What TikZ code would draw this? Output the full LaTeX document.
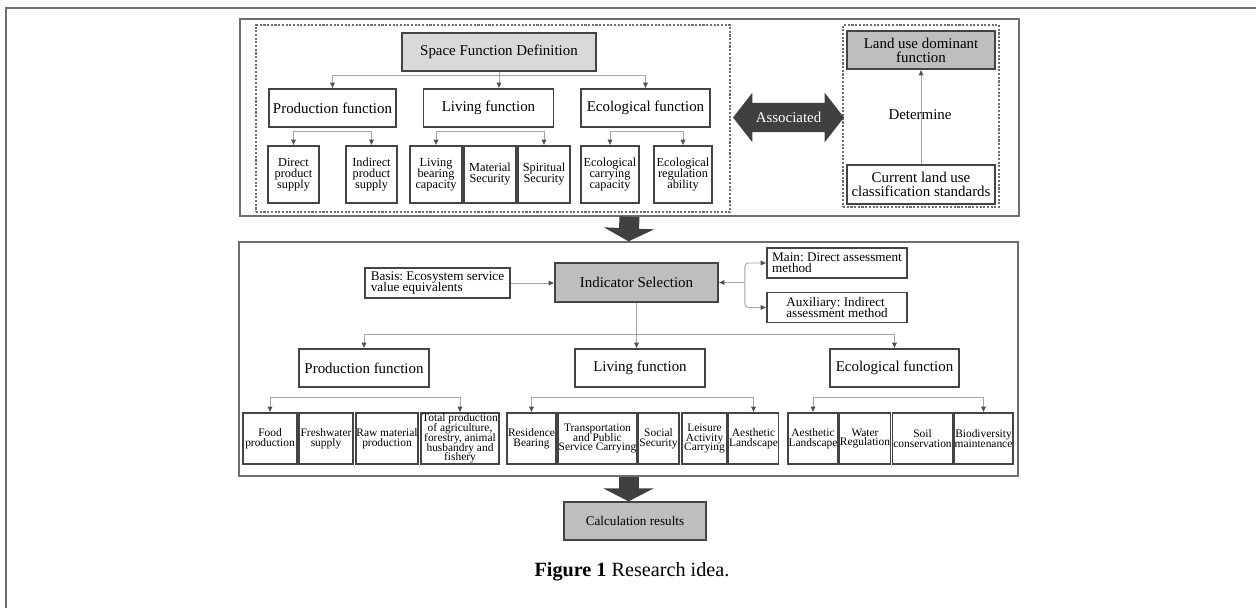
\documentclass[tikz,border=0pt]{standalone}
\usepackage{fontspec}
\setmainfont{Liberation Serif}
\usepackage{xcolor}
\definecolor{boxline}{RGB}{68,68,68}
\definecolor{frameline}{RGB}{110,110,110}
\definecolor{linkgray}{RGB}{165,165,165}
\definecolor{tipgray}{RGB}{80,80,80}
\definecolor{lightfill}{RGB}{217,217,217}
\definecolor{midfill}{RGB}{190,190,190}
\definecolor{arrowdark}{RGB}{64,64,64}
\usepackage{tikz}
\usetikzlibrary{arrows.meta, shapes.arrows, calc}
\newcommand{\tightskip}{\setlength{\lineskiplimit}{-5pt}\frenchspacing}

\tikzset{
  frame/.style={draw=frameline, line width=0.8pt},
  dotframe/.style={draw=frameline, line width=0.8pt, dash pattern=on 1.2pt off 0.9pt},
  fnbox/.style={draw=boxline, line width=0.75pt, inner sep=1pt, align=center, font=\fontsize{8.5}{8}\selectfont\tightskip},
  subbox/.style={draw=boxline, line width=0.75pt, inner sep=0.5pt, align=center, minimum height=1.14cm, font=\fontsize{7}{6.2}\selectfont\tightskip},
  leafbox/.style={draw=boxline, line width=0.75pt, inner sep=0.3pt, align=center, minimum height=1.02cm, font=\fontsize{6.5}{5.6}\selectfont\tightskip},
  notebox/.style={draw=boxline, line width=0.75pt, inner sep=1pt, align=left, minimum height=0.6cm, font=\fontsize{7.5}{6.4}\selectfont\tightskip},
  link/.style={draw=linkgray, line width=0.5pt, >={Latex[length=3.2pt,width=3pt,color=tipgray]}},
  bigarrow/.style={draw=arrowdark, line width=0.4cm, -{Triangle[width=1cm,length=0.26cm]}},
  assoc/.style={double arrow, fill=arrowdark, text=white, font=\fontsize{8.5}{8}\selectfont,
    inner xsep=2pt, inner ysep=5.2pt, minimum height=2.22cm,
    double arrow head extend=5.7pt, double arrow tip angle=104},
  pageline/.style={draw=frameline, line width=1.1pt}
}

\begin{document}
\begin{tikzpicture}[x=0.02cm, y=-0.02cm]
  \useasboundingbox (0,0) rectangle (1256,608);
  \draw[pageline] (1256,8) -- (6,8) -- (6,608);

  % Upper part: definition and land use
  \node[frame, minimum width=15.58cm, minimum height=3.94cm] (upper) at (629.5,117.5) {};
  \node[dotframe, minimum width=9.48cm, minimum height=3.74cm] (defzone) at (493,118.5) {};
  \node[dotframe, minimum width=3.12cm, minimum height=3.64cm] (landzone) at (921,116) {};

  \node[fnbox, fill=lightfill, minimum width=3.88cm, minimum height=0.76cm] (sfd) at (499,52) {Space Function Definition};
  \node[fnbox, minimum width=2.54cm, minimum height=0.76cm] (pf) at (332.5,108) {Production function};
  \node[fnbox, minimum width=2.6cm, minimum height=0.76cm] (liv) at (488.5,108) {Living function};
  \node[fnbox, minimum width=2.58cm, minimum height=0.76cm] (ef) at (645.5,108) {Ecological function};
  \draw[link,->] (sfd.south) -- (sfd.south |- liv.north);
  \draw[link,<->] (pf.north) -- ++(0,-13) -| (ef.north);

  % Sub functions
  \node[subbox, minimum width=1.02cm] (dps) at (293.5,174.5) {Direct\\product\\supply};
  \node[subbox, minimum width=1.02cm] (ips) at (371.5,174.5) {Indirect\\product\\supply};
  \node[subbox, minimum width=1.04cm] (lbc) at (436,174.5) {Living\\bearing\\capacity};
  \node[subbox, minimum width=1.04cm] (ms) at (490,174.5) {Material\\Security};
  \node[subbox, minimum width=1.04cm] (ss) at (544,174.5) {Spiritual\\Security};
  \node[subbox, minimum width=1.16cm] (ecc) at (610,174.5) {Ecological\\carrying\\capacity};
  \node[subbox, minimum width=1.16cm] (era) at (683,174.5) {Ecological\\regulation\\ability};
  \draw[link,<->] (dps.north) -- ++(0,-14) -| (ips.north);
  \draw[link,<->] (lbc.north) -- ++(0,-14) -| (ss.north);
  \draw[link,<->] (ecc.north) -- ++(0,-14) -| (era.north);

  % Land use side
  \node[fnbox, fill=midfill, minimum width=2.96cm, minimum height=0.76cm] (ldf) at (921,50) {Land use dominant\\function};
  \node[fnbox, minimum width=2.96cm, minimum height=0.78cm] (cur) at (921,184.5) {Current land use\\classification standards};
  \draw[link,->] (cur.north) -- (ldf.south);
  \node[font=\fontsize{8.5}{8}\selectfont] (det) at (920,115) {Determine};
  \node[assoc] (asc) at (788.5,117.5) {Associated};

  % Lower part: indicators
  \node[frame, minimum width=15.58cm, minimum height=4.68cm] (lower) at (628.5,359) {};
  \draw[bigarrow] (upper.south) -- (lower.north);
  \node[fnbox, fill=midfill, minimum width=3.26cm, minimum height=0.78cm] (ind) at (636.5,282.5) {Indicator Selection};
  \node[notebox, minimum width=2.9cm] (basis) at (437.5,283) {Basis: Ecosystem service\\value equivalents};
  \node[notebox, minimum width=2.8cm] (mainm) at (837,263) {Main: Direct assessment\\method};
  \node[notebox, minimum width=2.8cm] (auxm) at (837,307.5) {Auxiliary: Indirect\\assessment method};
  \draw[link,->] (basis.east) -- (basis.east -| ind.west);
  \coordinate (fork) at ($(ind.east)!0.55!(mainm.west |- ind.east)$);
  \draw[link,->] (fork) -- (ind.east);
  \draw[link,->,rounded corners=2pt] (fork) |- (mainm.west);
  \draw[link,->,rounded corners=2pt] (fork) |- (auxm.west);

  \node[fnbox, minimum width=2.6cm, minimum height=0.76cm] (pf2) at (364,368) {Production function};
  \node[fnbox, minimum width=2.6cm, minimum height=0.76cm] (lv2) at (640,368) {Living function};
  \node[fnbox, minimum width=2.58cm, minimum height=0.76cm] (ef2) at (894.5,368) {Ecological function};
  \draw[link,->] (ind.south) -- (ind.south |- lv2.north);
  \draw[link,<->] (pf2.north) -- ++(0,-14) -| (ef2.north);

  % Indicators
  \node[leafbox, minimum width=1.08cm] (fp) at (270,438.5) {Food\\production};
  \node[leafbox, minimum width=1.08cm] (fs) at (326,438.5) {Freshwater\\supply};
  \node[leafbox, minimum width=1.24cm] (rmp) at (387,438.5) {Raw material\\production};
  \node[leafbox, minimum width=1.56cm] (tp) at (460,438.5) {Total production\\of agriculture,\\forestry, animal\\husbandry and\\fishery};
  \node[leafbox, minimum width=0.98cm] (rb) at (531.5,438.5) {Residence\\Bearing};
  \node[leafbox, minimum width=1.58cm] (tps) at (597.5,438.5) {Transportation\\and Public\\Service Carrying};
  \node[leafbox, minimum width=0.82cm] (sos) at (658.5,438.5) {Social\\Security};
  \node[leafbox, minimum width=0.9cm] (lac) at (704.5,438.5) {Leisure\\Activity\\Carrying};
  \node[leafbox, minimum width=0.98cm] (al1) at (753.5,438.5) {Aesthetic\\Landscape};
  \node[leafbox, minimum width=1.0cm] (al2) at (813,438.5) {Aesthetic\\Landscape};
  \node[leafbox, minimum width=0.96cm] (wr) at (865,438.5) {Water\\Regulation};
  \node[leafbox, minimum width=1.18cm] (sc) at (922.5,438.5) {Soil\\conservation};
  \node[leafbox, minimum width=1.18cm] (bm) at (983.5,438.5) {Biodiversity\\maintenance};
  \draw[link,<->] (fp.north) -- ++(0,-15) -| (tp.north);
  \draw[link,<->] (rb.north) -- ++(0,-15) -| (al1.north);
  \draw[link,<->] (al2.north) -- ++(0,-15) -| (bm.north);

  % Result and caption
  \node[fnbox, fill=midfill, font=\fontsize{7.5}{8}\selectfont, minimum width=2.84cm, minimum height=0.76cm] (calc) at (635,521) {Calculation results};
  \draw[bigarrow] (lower.south) -- (lower.south |- calc.north);
  \node[font=\fontsize{11.5}{13}\selectfont] (cap) at (632,572) {\textbf{Figure 1} Research idea.};
\end{tikzpicture}
\end{document}
